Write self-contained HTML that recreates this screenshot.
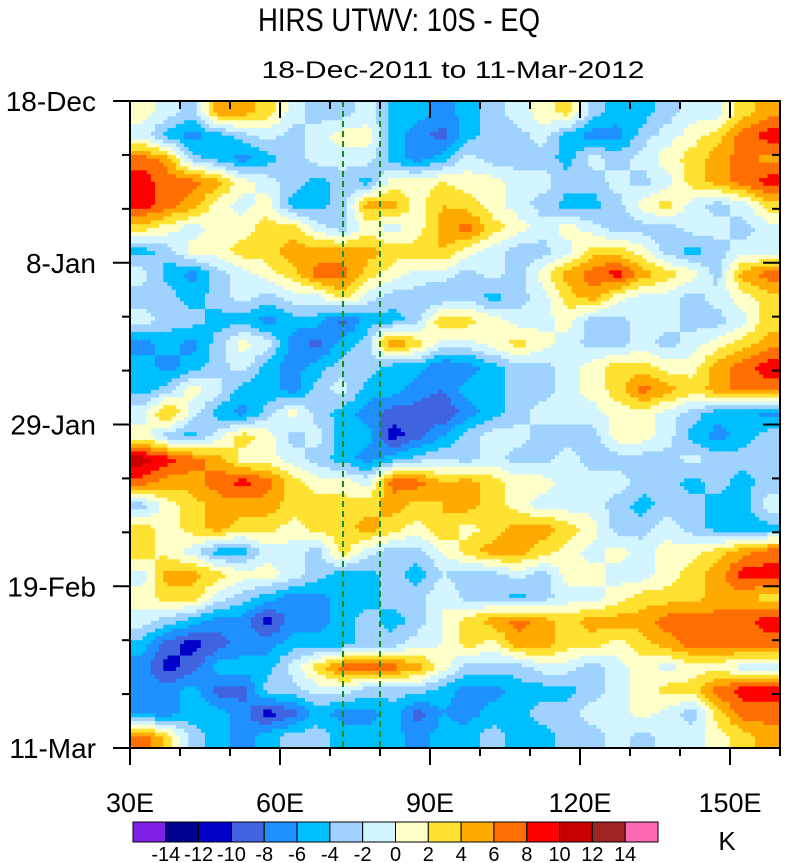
<!DOCTYPE html>
<html><head><meta charset="utf-8"><style>
body{margin:0;background:#fff;}
svg{display:block;font-family:"Liberation Sans",sans-serif;}
</style></head><body>
<svg id="chart" width="798" height="863" viewBox="0 0 798 863">
<text x="399" y="31" font-size="32" text-anchor="middle" textLength="282" lengthAdjust="spacingAndGlyphs">HIRS UTWV: 10S - EQ</text>
<text x="453" y="78" font-size="24" text-anchor="middle" textLength="383" lengthAdjust="spacingAndGlyphs">18-Dec-2011 to 11-Mar-2012</text>
<g id="cells"></g>
<g id="marks"></g>
<g id="axes"></g>
<g id="cbar"></g>
<text x="727" y="850" font-size="26" text-anchor="middle">K</text>
</svg>
<script>
const lonStart = 30, lonEnd = 160, dayCount = 84;
const levels = [-14,-12,-10,-8,-6,-4,-2,0,2,4,6,8,10,12,14];
const levelColors = ["#8020e8","#000090","#0000c8","#4064e0","#1e90ff","#00bfff","#a0d2ff","#d2f5ff","#ffffc8","#ffe132","#ffaa00","#ff6e00","#ff0000","#c80000","#a02424","#ff69b4"];
const yTickLabels = ["18-Dec","8-Jan","29-Jan","19-Feb","11-Mar"];
const yTickDays = [0,21,42,63,84];
const xTickLons = [30,60,90,120,150];
const xTickLabels = ["30E","60E","90E","120E","150E"];
const refLons = [72.6,80];
// rows: every 3 days from 18-Dec; columns: 5-degree bins from 30E
const field = [
[1,-1,-3,5,5,3,-1,-3,-3,-1,-5,-5,-7,-5,-3,-1,1,3,-3,-5,-5,-3,-1,-1,3,5],
[-1,-5,-7,-5,-3,-1,-3,-1,1,1,-5,-7,-9,-5,-3,-3,-1,-5,-7,-7,-3,-1,1,3,7,9],
[7,5,-3,-5,-7,-5,-3,-1,-1,-1,-5,-7,-5,-1,-3,-3,-3,-5,-1,-3,-1,1,3,5,7,5],
[9,7,7,5,1,-1,-3,-5,-3,-5,1,1,2,1,1,-1,-1,-3,-3,-1,-3,-1,3,5,7,9],
[9,7,5,1,-1,1,-5,-5,-3,5,5,1,4,3,1,-1,-3,-5,-5,-3,1,3,-1,-3,-1,3],
[3,1,-1,1,1,3,3,-1,-3,1,-1,1,5,7,3,1,-1,1,-1,-3,-3,-3,-1,-1,-3,-1],
[-5,-3,1,1,3,3,5,5,5,5,3,3,4,1,-1,-3,-3,-1,3,3,1,-3,-5,-3,-1,-1],
[-1,-5,-7,-3,-1,1,3,7,7,3,1,-1,-1,-3,-1,-3,1,5,7,9,5,3,1,-3,5,7],
[-3,-3,-5,-3,-1,-3,-1,-1,3,-1,-3,-3,-4,-3,-5,-3,-1,3,5,1,-1,-1,-3,-1,1,3],
[-1,-3,-3,-5,-5,-7,-5,-5,-9,-5,-5,-3,4,3,1,-1,-1,1,-3,-3,-1,-1,-3,-3,-1,3],
[-7,-5,-7,-3,1,-1,-7,-9,-5,-3,7,3,-1,-1,1,3,1,-1,-3,-3,-1,-3,-1,1,3,5],
[-5,-7,-5,-3,-1,-5,-7,-5,-3,-3,-5,-5,-8,-7,-5,-3,-3,-1,1,3,3,1,1,5,7,9],
[-5,-3,1,-1,-5,-5,-7,-3,-1,-5,-5,-7,-8,-5,-5,-3,-3,-1,1,3,7,5,3,5,7,7],
[-1,5,-1,-5,-7,-3,1,-3,-5,-7,-9,-9,-10,-7,-5,-3,-1,-1,-1,1,1,-1,-3,-5,-5,-7],
[1,-3,-5,-1,3,1,-3,-1,-5,-5,-11,-9,-6,-3,-1,-1,-3,-3,-3,1,1,-1,-5,-7,-5,-3],
[11,9,7,5,1,1,-1,-3,-5,-7,-5,-3,-2,-3,-1,-3,-3,-1,-3,-3,-3,-3,-1,-3,-3,-3],
[7,5,5,7,9,7,3,1,1,-1,7,7,4,5,3,1,1,-1,-1,-1,-3,-3,-5,-3,-5,-3],
[-3,1,3,5,5,5,3,3,3,3,5,3,4,5,3,1,-1,-1,-1,-3,-5,-3,-3,-5,-5,-1],
[3,1,3,5,3,3,1,3,3,5,3,1,4,1,3,5,5,3,1,-3,-3,-1,-3,-5,-5,-5],
[3,1,-1,-5,-5,-1,-1,-3,3,-1,-3,-3,0,3,5,5,3,1,-1,1,-1,1,1,3,5,7],
[-1,5,5,3,1,1,-1,-3,-5,-5,-3,-5,-2,-3,-3,-1,-3,1,1,-1,-1,1,3,5,9,9],
[1,3,3,-1,-3,-5,-7,-7,-5,-5,-3,-3,0,-3,-3,-5,-3,-1,-1,1,3,3,3,5,5,3],
[-1,-3,-5,-7,-7,-11,-7,-7,-5,-3,-5,-3,0,3,5,7,5,3,5,5,5,7,7,7,7,9],
[-5,-9,-11,-9,-7,-7,-5,-5,-5,-3,-3,-1,0,3,1,5,5,3,3,1,3,5,7,7,7,7],
[-7,-11,-9,-5,-5,-5,-1,3,7,7,7,5,1,-3,-3,-3,-1,-1,-3,-1,1,-1,1,1,-1,-1],
[-7,-7,-5,-9,-9,-3,-3,-1,-1,-3,-3,-3,-5,-7,-7,-5,-5,-5,-3,-1,1,3,3,7,9,9],
[-7,-7,-5,-5,-7,-11,-9,-5,-7,-7,-5,-9,-6,-7,-5,-5,-3,-3,-1,-1,1,-1,-3,3,7,7],
[7,3,-3,-5,-7,-5,-3,-3,-5,-5,-5,-7,-5,-5,-3,-5,-5,-3,-3,-1,-3,-1,-1,1,3,5]
];
const NS='http://www.w3.org/2000/svg';
const PX0=130,PX1=780,PY0=101,PY1=748;
const xS=lon=>PX0+(lon-lonStart)/(lonEnd-lonStart)*(PX1-PX0);
const yS=d=>PY0+d/dayCount*(PY1-PY0);
function colorFor(v){let i=0;while(i<levels.length&&v>=levels[i])i++;return levelColors[i];}
function mk(tag,attrs,parent){const e=document.createElementNS(NS,tag);for(const k in attrs)e.setAttribute(k,attrs[k]);parent.appendChild(e);return e;}
const nR=field.length,nC=field[0].length;
const dLon=(lonEnd-lonStart)/nC,dDay=dayCount/nR;
function val(r,c){r=Math.max(0,Math.min(nR-1,r));c=Math.max(0,Math.min(nC-1,c));return field[r][c];}
function sample(fr,fc){const r0=Math.floor(fr),c0=Math.floor(fc),tr=fr-r0,tc=fc-c0;
return (val(r0,c0)*(1-tc)+val(r0,c0+1)*tc)*(1-tr)+(val(r0+1,c0)*(1-tc)+val(r0+1,c0+1)*tc)*tr;}
const cells=document.getElementById('cells');
const SUB=6,totR=nR*SUB,totC=nC*SUB;
for(let i=0;i<totR;i++){
  const d0=i*dDay/SUB,d1=(i+1)*dDay/SUB;const y0=yS(d0),y1=yS(d1);
  let runStart=0,runCol=null;
  for(let j=0;j<=totC;j++){
    let col=null;
    if(j<totC){const fr=(i+0.5)/SUB-0.5,fc=(j+0.5)/SUB-0.5;col=colorFor(sample(fr,fc));}
    if(col!==runCol){
      if(runCol!==null){
        const x0=xS(lonStart+runStart*dLon/SUB),x1=xS(lonStart+j*dLon/SUB);
        const rc=mk('rect',{x:x0.toFixed(2),y:y0.toFixed(2),width:(x1-x0+0.6).toFixed(2),height:(y1-y0+0.6).toFixed(2),fill:runCol},cells);
        
        
      }
      runStart=j;runCol=col;
    }
  }
}
const marks=document.getElementById('marks');
refLons.forEach(l=>{const ln=mk('line',{x1:xS(l),x2:xS(l),y1:PY0,y2:PY1,stroke:'#1a8a1a','stroke-width':2,'stroke-dasharray':'6,4'},marks);

});
const ax=document.getElementById('axes');
const fr=mk('rect',{x:PX0,y:PY0,width:PX1-PX0,height:PY1-PY0,fill:'none',stroke:'#000','stroke-width':2},ax);


for(let d=0;d<=dayCount;d+=7){const y=yS(d);const major=yTickDays.includes(d);const L=major?17:8;
  mk('line',{x1:PX0-L,x2:PX0,y1:y,y2:y,stroke:'#000','stroke-width':2},ax);
  mk('line',{x1:PX1-L,x2:PX1,y1:y,y2:y,stroke:'#000','stroke-width':2},ax);}
yTickDays.forEach((d,i)=>{const t=mk('text',{x:96,y:yS(d)+10,'font-size':28,'text-anchor':'end'},ax);t.textContent=yTickLabels[i];

});
for(let l=lonStart;l<=lonEnd;l+=10){const x=xS(l);const major=xTickLons.includes(l);const L=major?17:8;
  mk('line',{x1:x,x2:x,y1:PY1,y2:PY1+L,stroke:'#000','stroke-width':2},ax);
  mk('line',{x1:x,x2:x,y1:PY0,y2:PY0+L,stroke:'#000','stroke-width':2},ax);}
xTickLons.forEach((l,i)=>{const t=mk('text',{x:xS(l),y:812,'font-size':27,'text-anchor':'middle'},ax);t.textContent=xTickLabels[i];

});
const cb=document.getElementById('cbar');const CB0=133,CB1=658,bw=(CB1-CB0)/levelColors.length;
levelColors.forEach((c,i)=>{const r=mk('rect',{x:CB0+i*bw,y:822,width:bw,height:20,fill:c,stroke:'#000','stroke-width':1},cb);

});
levels.forEach((v,i)=>{const t=mk('text',{x:CB0+(i+1)*bw,y:861,'font-size':20,'text-anchor':'middle'},cb);t.textContent=v;

});
</script>
</body></html>
